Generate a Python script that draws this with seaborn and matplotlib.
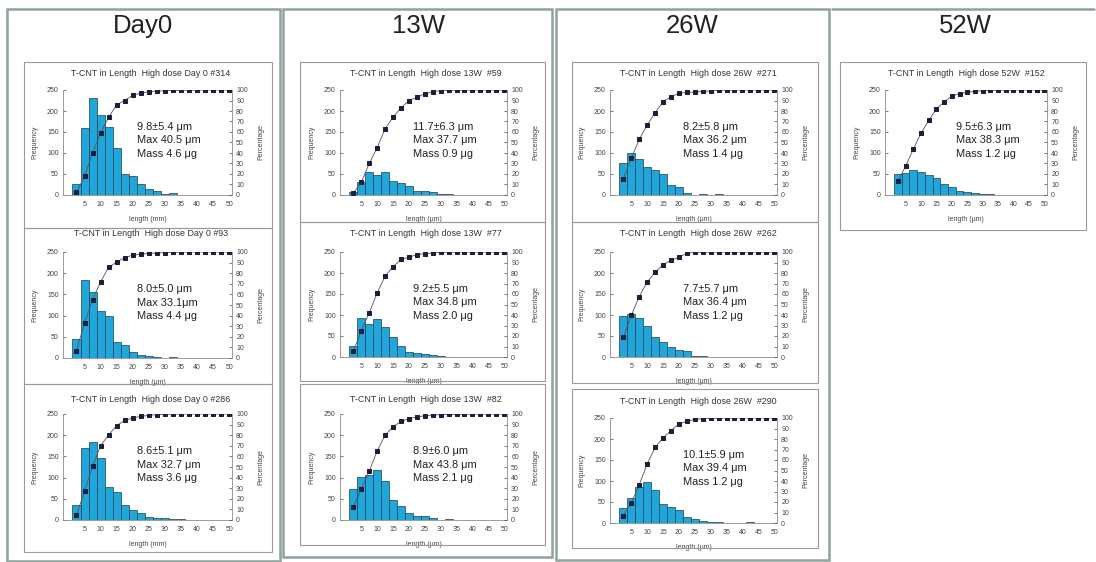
import matplotlib
matplotlib.use("Agg")
import matplotlib.pyplot as plt
from matplotlib.patches import Rectangle
import seaborn as sns

# ---------------- data ----------------
BIN_CENTERS = [2.5 * k for k in range(1, 21)]
COLUMN_TITLES = ["Day0", "13W", "26W", "52W"]

freq_day0_314 = [25, 160, 230, 190, 161, 112, 51, 46, 25, 14, 9, 2, 4, 1, 1, 0, 1, 0, 0, 0]
pct_day0_314 = [2.4, 18, 40, 59, 74, 86, 90, 95, 97, 98.5, 99, 99.3, 99.6, 99.7, 99.8, 99.8, 100, 100, 100, 100]
freq_day0_93 = [44, 183, 156, 112, 98, 38, 30, 13, 8, 5.5, 2, 1, 1.5, 1, 0, 0, 0, 0, 0, 0]
pct_day0_93 = [7, 33, 55, 72, 85.5, 90.5, 94.7, 97, 97.8, 98.7, 99, 99.4, 99.7, 99.9, 100, 100, 100, 100, 100, 100]
freq_day0_286 = [35, 170, 183, 147, 79, 65, 35, 23, 16, 8, 5.5, 4, 2.4, 1.6, 1, 0, 0, 0, 0, 0]
pct_day0_286 = [4.7, 27, 51, 70, 80.4, 89, 94, 96.2, 97.8, 98.7, 99.4, 99.7, 99.9, 100, 100, 100, 100, 100, 100, 100]

freq_13w_59 = [6, 30, 55, 47, 55, 33, 28, 22, 9.5, 9.5, 7, 2, 1.5, 1, 1, 1, 1, 0, 0, 0]
pct_13w_59 = [2, 12, 30, 45, 63, 74, 83, 90, 93, 96.5, 98.4, 99.4, 99.7, 99.8, 99.9, 100, 100, 100, 100, 100]
freq_13w_77 = [26, 92, 79, 91, 71, 48, 26, 12, 9.5, 6.4, 4, 1.6, 1, 1, 1, 0, 0, 0, 0, 0]
pct_13w_77 = [5.4, 25, 42, 61, 77, 86, 93, 95, 97.5, 98.4, 99, 99.7, 99.8, 99.9, 100, 100, 100, 100, 100, 100]
freq_13w_82 = [72, 102, 106, 117, 91, 46, 32, 16, 10, 8.7, 4.7, 1, 1.6, 1, 1, 1, 1, 1, 0.5, 0]
pct_13w_82 = [12.3, 29, 46, 65, 80, 88, 93, 95.6, 97.2, 98.4, 99, 99.4, 99.6, 99.7, 99.8, 99.9, 100, 100, 100, 100]

freq_26w_271 = [75, 99, 86, 67, 60, 51, 24, 18, 5.5, 1, 2, 1, 2, 0, 1, 0, 0, 0, 0, 0]
pct_26w_271 = [15.5, 35, 53, 66.5, 78.5, 88.6, 93.7, 96.8, 97.8, 98, 98.7, 99, 99.7, 99.8, 100, 100, 100, 100, 100, 100]
freq_26w_262 = [98, 102, 93, 74, 48, 36, 25, 16, 15, 2.4, 1.6, 1, 0.8, 0.5, 1, 0.5, 0, 0, 0, 0]
pct_26w_262 = [18.7, 39.7, 57.5, 71.4, 80.6, 88, 92, 95, 98.7, 99.7, 99.8, 99.9, 100, 100, 100, 100, 100, 100, 100, 100]
freq_26w_290 = [35, 59.5, 86.5, 97, 78, 45, 37, 31, 13.5, 8.7, 5.5, 2.4, 1.6, 1, 1, 1, 1.6, 0, 0, 0]
pct_26w_290 = [7, 19, 36.5, 56, 72, 81, 88, 94.3, 96.8, 98.7, 99.4, 99.6, 99.8, 99.9, 100, 100, 100, 100, 100, 100]

freq_52w_152 = [50, 52, 60, 55, 47, 40, 26, 20, 9.5, 6, 4, 2.5, 2, 1, 0.5, 0.5, 1, 0, 0, 0]
pct_52w_152 = [13, 27.5, 43.7, 59, 71, 82, 88.6, 94.3, 96.5, 97.8, 98.7, 99.4, 99.7, 99.8, 99.9, 100, 100, 100, 100, 100]

TITLES = {
    "d0a": "T-CNT in Length  High dose Day 0 #314",
    "d0b": "T-CNT in Length  High dose Day 0 #93",
    "d0c": "T-CNT in Length  High dose Day 0 #286",
    "w13a": "T-CNT in Length  High dose 13W  #59",
    "w13b": "T-CNT in Length  High dose 13W  #77",
    "w13c": "T-CNT in Length  High dose 13W  #82",
    "w26a": "T-CNT in Length  High dose 26W  #271",
    "w26b": "T-CNT in Length  High dose 26W  #262",
    "w26c": "T-CNT in Length  High dose 26W  #290",
    "w52a": "T-CNT in Length  High dose 52W  #152",
}
NOTES = {
    "d0a": ["9.8\u00b15.4 \u03bcm", "Max 40.5 \u03bcm", "Mass 4.6 \u03bcg"],
    "d0b": ["8.0\u00b15.0 \u03bcm", "Max 33.1\u03bcm", "Mass 4.4 \u03bcg"],
    "d0c": ["8.6\u00b15.1 \u03bcm", "Max 32.7 \u03bcm", "Mass 3.6 \u03bcg"],
    "w13a": ["11.7\u00b16.3 \u03bcm", "Max 37.7 \u03bcm", "Mass 0.9 \u03bcg"],
    "w13b": ["9.2\u00b15.5 \u03bcm", "Max 34.8 \u03bcm", "Mass 2.0 \u03bcg"],
    "w13c": ["8.9\u00b16.0 \u03bcm", "Max 43.8 \u03bcm", "Mass 2.1 \u03bcg"],
    "w26a": ["8.2\u00b15.8 \u03bcm", "Max 36.2 \u03bcm", "Mass 1.4 \u03bcg"],
    "w26b": ["7.7\u00b15.7 \u03bcm", "Max 36.4 \u03bcm", "Mass 1.2 \u03bcg"],
    "w26c": ["10.1\u00b15.9 \u03bcm", "Max 39.4 \u03bcm", "Mass 1.2 \u03bcg"],
    "w52a": ["9.5\u00b16.3 \u03bcm", "Max 38.3 \u03bcm", "Mass 1.2 \u03bcg"],
}
XLABELS = {k: "length (\u03bcm)" for k in TITLES}
XLABELS["d0a"] = "length (mm)"
XLABELS["d0c"] = "length (mm)"
FREQS = {"d0a": freq_day0_314, "d0b": freq_day0_93, "d0c": freq_day0_286,
         "w13a": freq_13w_59, "w13b": freq_13w_77, "w13c": freq_13w_82,
         "w26a": freq_26w_271, "w26b": freq_26w_262, "w26c": freq_26w_290,
         "w52a": freq_52w_152}
PCTS = {"d0a": pct_day0_314, "d0b": pct_day0_93, "d0c": pct_day0_286,
        "w13a": pct_13w_59, "w13b": pct_13w_77, "w13c": pct_13w_82,
        "w26a": pct_26w_271, "w26b": pct_26w_262, "w26c": pct_26w_290,
        "w52a": pct_52w_152}

# ---------------- layout (pixels, top-left origin) ----------------
W, H = 1096, 562
COL_BOXES = [(7, 280, 9, 561), (283, 552, 9, 557), (556, 829, 9, 560), (832, 1094, 9, None)]
COL_TITLE_X = [143, 418, 692, 965]
PANELS = {
    "d0a": ((24, 272, 62, 228), (63, 232, 90, 195), 74),
    "d0b": ((24, 272, 228, 384), (63, 232, 252, 358), 234),
    "d0c": ((24, 272, 384, 552), (63, 232, 414, 520), 399),
    "w13a": ((300, 545, 62, 222), (340, 507, 90, 195), 74),
    "w13b": ((300, 545, 222, 381), (340, 507, 252, 357), 234),
    "w13c": ((300, 545, 384, 545), (340, 507, 414, 520), 399),
    "w26a": ((572, 818, 62, 222), (610, 777, 90, 195), 74),
    "w26b": ((572, 818, 222, 383), (610, 777, 252, 357), 234),
    "w26c": ((572, 818, 389, 548), (610, 777, 418, 523), 401),
    "w52a": ((840, 1086, 62, 230), (885, 1047, 90, 195), 74),
}

BAR = "#1FA6DA"
EDGE = "#1c3d52"
MARK = "#1b1f3b"
LINE = "#555555"
SPINE = "#8c8c8c"
TXT = "#333333"

sns.set_theme(style="white")
plt.rcParams["font.family"] = ["Liberation Sans", "DejaVu Sans"]

fig = plt.figure(figsize=(W / 100, H / 100), dpi=100)
fig.patch.set_facecolor("white")

def fx(x):
    return x / W

def fy(y):
    return 1 - y / H

for (x0, x1, y0, y1) in COL_BOXES:
    if y1 is None:
        fig.add_artist(plt.Line2D([fx(x0), fx(x1)], [fy(y0), fy(y0)], color="#8fa39c", lw=1.8))
    else:
        fig.add_artist(Rectangle((fx(x0), fy(y1)), fx(x1) - fx(x0), fy(y0) - fy(y1),
                                 transform=fig.transFigure, fill=False,
                                 edgecolor="#8fa39c", lw=1.8))
for t, cx in zip(COLUMN_TITLES, COL_TITLE_X):
    fig.text(fx(cx), fy(26), t, ha="center", va="center", fontsize=18.5, color="#222222")

for key, (box, axr, ty) in PANELS.items():
    bx0, bx1, by0, by1 = box
    fig.add_artist(Rectangle((fx(bx0), fy(by1)), fx(bx1) - fx(bx0), fy(by0) - fy(by1),
                             transform=fig.transFigure, fill=False,
                             edgecolor="#9a9a9a", lw=0.8))
    ax0, ax1, at, ab = axr
    ax = fig.add_axes([fx(ax0), fy(ab), fx(ax1) - fx(ax0), fy(at) - fy(ab)])
    sns.barplot(x=BIN_CENTERS, y=FREQS[key], native_scale=True, width=1.0,
                color=BAR, saturation=1, edgecolor=EDGE, linewidth=0.5,
                errorbar=None, ax=ax)
    ax2 = ax.twinx()
    sns.lineplot(x=BIN_CENTERS, y=PCTS[key], marker="s", markersize=2.8,
                 color=LINE, markerfacecolor=MARK, markeredgecolor=MARK,
                 linewidth=0.6, ax=ax2)
    ax.set_xlim(-1.7, 50.9)
    ax.set_ylim(0, 250)
    ax2.set_ylim(0, 100)
    ax.set_xticks(list(range(5, 51, 5)))
    ax.set_yticks(list(range(0, 251, 50)))
    ax2.set_yticks(list(range(0, 101, 10)))
    for a in (ax, ax2):
        a.set_facecolor("none")
        a.spines["top"].set_visible(False)
        for s in ("left", "right", "bottom"):
            a.spines[s].set_color(SPINE)
            a.spines[s].set_linewidth(0.6)
        a.tick_params(labelsize=5.0, colors="#444444", length=2, width=0.5,
                      direction="in", pad=3)
        a.grid(False)
    ax.tick_params(axis="x", length=0, pad=4)
    ax.spines["right"].set_visible(False)
    ax2.spines["left"].set_visible(False)
    ax2.spines["bottom"].set_visible(False)
    axw = ax1 - ax0
    axh = ab - at
    ax.set_xlabel(XLABELS[key], fontsize=5.0, color="#444444")
    ax.xaxis.set_label_coords(0.5, -21 / axh)
    ax.set_ylabel("Frequency", fontsize=5.0, color="#444444")
    ax.yaxis.set_label_coords(-25 / axw, 0.5)
    ax2.set_ylabel("Percentage", fontsize=5.0, color="#444444")
    ax2.yaxis.set_label_coords(1 + 25 / axw, 0.5)
    ax2.set_xlabel("")
    fig.text(fx((bx0 + bx1) / 2 + 3), fy(ty), TITLES[key], ha="center", va="center",
             fontsize=6.4, color=TXT)
    for line, yy in zip(NOTES[key], (0.65, 0.52, 0.395)):
        ax.text(0.44, yy, line, transform=ax.transAxes, ha="left", va="center",
                fontsize=7.9, color="#222222")

fig.savefig("out.png", dpi=100, facecolor="white")
